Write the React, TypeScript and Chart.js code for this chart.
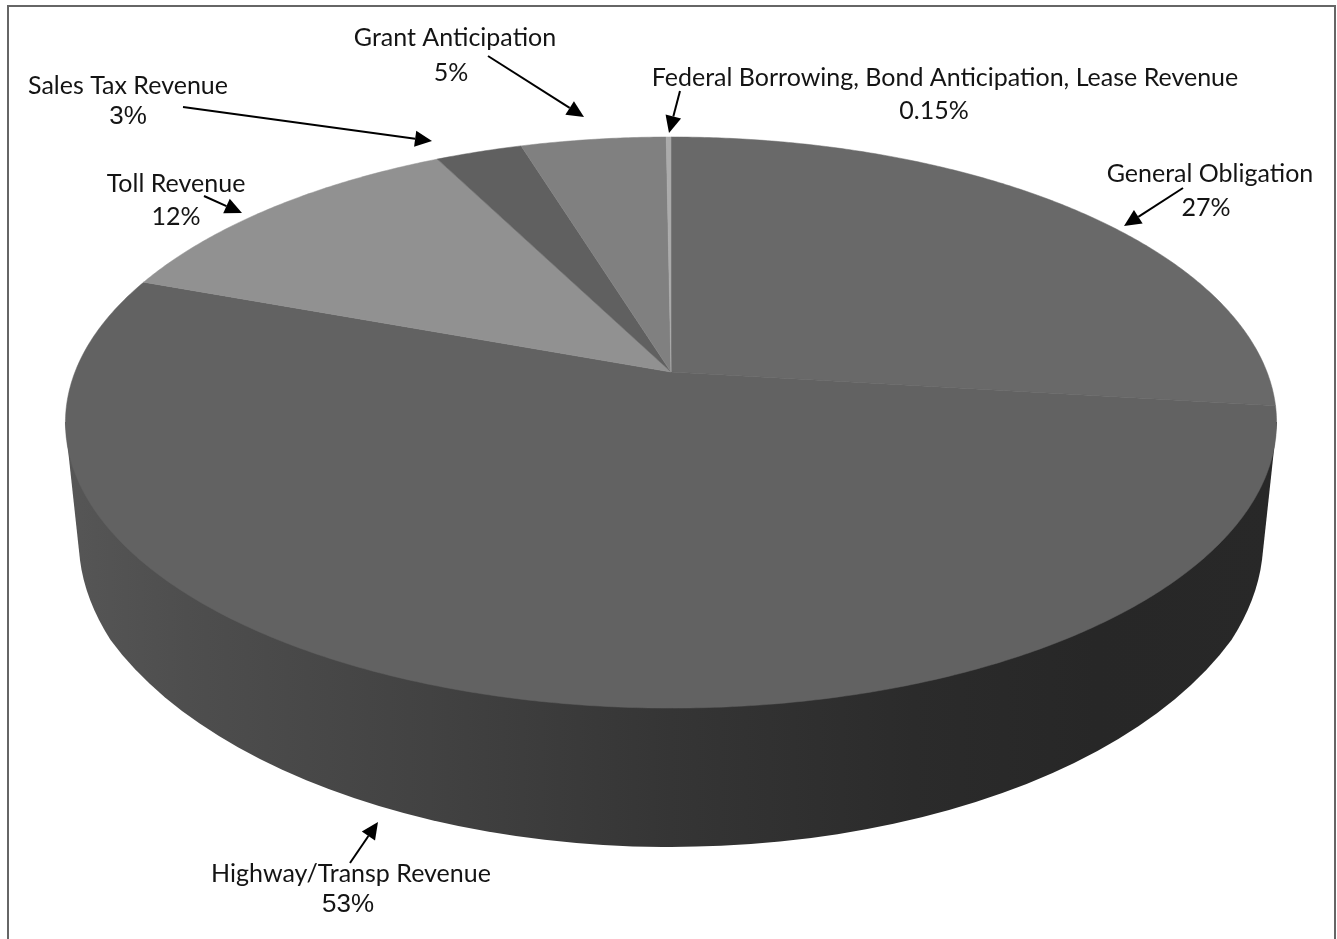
import React, { useEffect, useRef } from "react";
import { Chart, registerables } from "chart.js";

Chart.register(...registerables);

// ---- data ----
const categories = [
  "General Obligation",
  "Highway/Transp Revenue",
  "Toll Revenue",
  "Sales Tax Revenue",
  "Grant Anticipation",
  "Federal Borrowing, Bond Anticipation, Lease Revenue",
];
const sliceValues = [26.9, 53.7, 11.9, 2.75, 4.6, 0.15];
const percentLabels = ["27%", "53%", "12%", "3%", "5%", "0.15%"];
const sliceColors = ["#696969", "#626262", "#919191", "#606060", "#808080", "#ababab"];

// ---- presentation ----
const W = 1337;
const H = 939;
const FONT = "Lato, 'Open Sans', sans-serif";
const ARIAL_LIKE = "'Liberation Sans', sans-serif";
const apex = { x: 671, y: 372 };
const persp = { k: 596, m: 276.6, p: -0.177 };
const rim = { cx: 671, topY: 422, topA: 606, floor: { cy: 519, a: 603, b: 328 }, join: 0.378 };

const labelPlacement = [
  { name: [1210, 182], pct: [1206, 216], pctFont: `25px ${FONT}` },
  { name: [351, 882], pct: [348, 912], pctFont: `26px ${ARIAL_LIKE}` },
  { name: [176, 192], pct: [176, 225], pctFont: `25px ${FONT}` },
  { name: [128, 94], pct: [128, 124], pctFont: `26px ${ARIAL_LIKE}` },
  { name: [455, 46], pct: [451, 81], pctFont: `25px ${FONT}` },
  { name: [945, 86], pct: [934, 119], pctFont: `25px ${FONT}` },
];
const arrowPlacement = [
  [1183, 188, 1124, 226],
  [350, 863, 378, 822],
  [204, 196, 242, 213],
  [183, 107, 432, 141],
  [488, 56, 584, 117],
  [680, 91, 669, 133],
];

const project = (t: number) => {
  const d = 1 + persp.p * Math.sin(t);
  return { x: apex.x + (persp.k * Math.cos(t)) / d, y: apex.y + (persp.m * Math.sin(t)) / d };
};

const perspectivePie = {
  id: "perspectivePie",
  beforeDatasetDraw(chart: any) {
    const ctx = chart.ctx;
    const arcs = chart.getDatasetMeta(0).data;

    // wall of the disc
    const f = rim.floor;
    const j = rim.join;
    const jx = f.a * Math.cos(j);
    const jy = f.cy + f.b * Math.sin(j);
    const grad = ctx.createLinearGradient(65, 0, 1278, 0);
    grad.addColorStop(0, "#565656");
    grad.addColorStop(0.1, "#4e4e4e");
    grad.addColorStop(0.3, "#424242");
    grad.addColorStop(0.5, "#353535");
    grad.addColorStop(0.7, "#2b2b2b");
    grad.addColorStop(0.85, "#272727");
    grad.addColorStop(1, "#282828");
    ctx.save();
    ctx.fillStyle = grad;
    ctx.beginPath();
    ctx.moveTo(rim.cx - rim.topA, rim.topY);
    ctx.lineTo(rim.cx - 591, 560);
    ctx.quadraticCurveTo(rim.cx - 586, 600, rim.cx - jx, jy);
    ctx.ellipse(rim.cx, f.cy, f.a, f.b, 0, Math.PI - j, j, true);
    ctx.quadraticCurveTo(rim.cx + 586, 600, rim.cx + 591, 560);
    ctx.lineTo(rim.cx + rim.topA, rim.topY);
    ctx.closePath();
    ctx.fill();

    // top face: one wedge per element, from the library's own angles
    arcs.forEach((arc: any, i: number) => {
      const { startAngle, endAngle } = arc.getProps(["startAngle", "endAngle"], true);
      ctx.beginPath();
      ctx.moveTo(apex.x, apex.y);
      const n = Math.max(2, Math.ceil((endAngle - startAngle) * 120));
      for (let s = 0; s <= n; s++) {
        const p = project(startAngle + ((endAngle - startAngle) * s) / n);
        ctx.lineTo(p.x, p.y);
      }
      ctx.closePath();
      ctx.fillStyle = sliceColors[i];
      ctx.strokeStyle = sliceColors[i];
      ctx.lineWidth = 0.5;
      ctx.fill();
      ctx.stroke();
    });
    ctx.restore();
    return false;
  },
  afterDraw(chart: any) {
    const ctx = chart.ctx;
    ctx.save();

    // frame: top, left and right only
    ctx.strokeStyle = "#666666";
    ctx.lineWidth = 2;
    ctx.beginPath();
    ctx.moveTo(8, H);
    ctx.lineTo(8, 6);
    ctx.lineTo(1335, 6);
    ctx.lineTo(1335, H);
    ctx.stroke();

    // arrows
    ctx.strokeStyle = "#000";
    ctx.fillStyle = "#000";
    arrowPlacement.forEach(([x0, y0, x1, y1]) => {
      const ang = Math.atan2(y1 - y0, x1 - x0);
      const len = 17;
      const half = 8;
      const bx = x1 - len * Math.cos(ang);
      const by = y1 - len * Math.sin(ang);
      ctx.lineWidth = 2;
      ctx.beginPath();
      ctx.moveTo(x0, y0);
      ctx.lineTo(bx, by);
      ctx.stroke();
      ctx.beginPath();
      ctx.moveTo(x1, y1);
      ctx.lineTo(bx - half * Math.sin(ang), by + half * Math.cos(ang));
      ctx.lineTo(bx + half * Math.sin(ang), by - half * Math.cos(ang));
      ctx.closePath();
      ctx.fill();
    });

    // labels
    ctx.fillStyle = "#141414";
    ctx.textAlign = "center";
    ctx.textBaseline = "alphabetic";
    categories.forEach((c, i) => {
      const [x, y] = labelPlacement[i].name;
      ctx.font = `25px ${FONT}`;
      ctx.fillText(c, x, y);
    });
    percentLabels.forEach((c, i) => {
      const [x, y] = labelPlacement[i].pct;
      ctx.font = labelPlacement[i].pctFont;
      ctx.fillText(c, x, y);
    });
    ctx.restore();
  },
};

export default function App() {
  const ref = useRef<HTMLCanvasElement>(null);
  useEffect(() => {
    document.body.style.margin = "0";
    document.body.style.background = "#fff";
    const chart = new Chart(ref.current as HTMLCanvasElement, {
      type: "pie",
      data: {
        labels: categories,
        datasets: [{ data: sliceValues, backgroundColor: sliceColors, borderWidth: 0 }],
      },
      options: {
        animation: false,
        responsive: false,
        devicePixelRatio: 1,
        events: [],
        plugins: { legend: { display: false }, tooltip: { enabled: false } },
      },
      plugins: [perspectivePie],
    } as any);
    return () => chart.destroy();
  }, []);
  return <canvas ref={ref} width={W} height={H} style={{ display: "block", width: W, height: H }} />;
}
